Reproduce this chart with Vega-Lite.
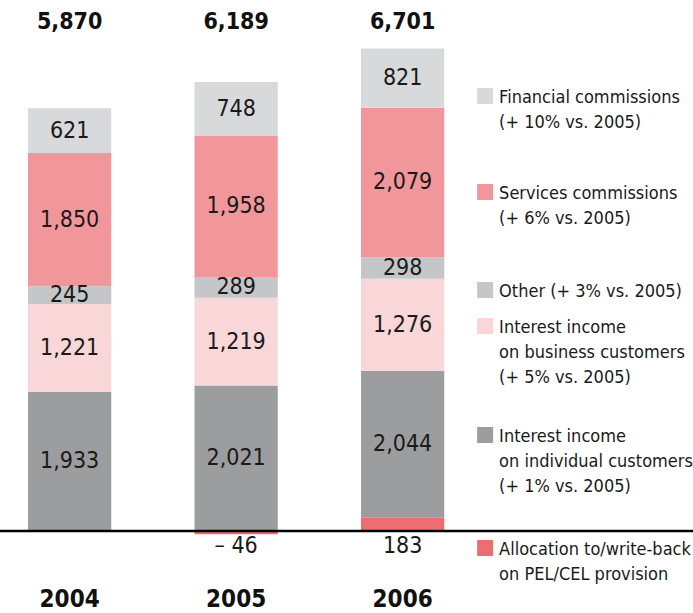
{
  "$schema": "https://vega.github.io/schema/vega-lite/v6.json",
  "width": 693,
  "height": 613,
  "autosize": {"type": "none"},
  "padding": 0,
  "background": "white",
  "config": {"view": {"stroke": null}, "font": "DejaVu Sans Condensed, Liberation Sans"},
  "datasets": {
    "income": [
      {"year": "2004", "cat": "Interest income on individual customers", "ord": 2, "value": 1933, "label": "1,933"},
      {"year": "2004", "cat": "Interest income on business customers", "ord": 3, "value": 1221, "label": "1,221"},
      {"year": "2004", "cat": "Other", "ord": 4, "value": 245, "label": "245"},
      {"year": "2004", "cat": "Services commissions", "ord": 5, "value": 1850, "label": "1,850"},
      {"year": "2004", "cat": "Financial commissions", "ord": 6, "value": 621, "label": "621"},
      {"year": "2005", "cat": "Allocation to/write-back on PEL/CEL provision", "ord": 1, "value": -46, "label": "– 46"},
      {"year": "2005", "cat": "Interest income on individual customers", "ord": 2, "value": 2021, "label": "2,021"},
      {"year": "2005", "cat": "Interest income on business customers", "ord": 3, "value": 1219, "label": "1,219"},
      {"year": "2005", "cat": "Other", "ord": 4, "value": 289, "label": "289"},
      {"year": "2005", "cat": "Services commissions", "ord": 5, "value": 1958, "label": "1,958"},
      {"year": "2005", "cat": "Financial commissions", "ord": 6, "value": 748, "label": "748"},
      {"year": "2006", "cat": "Allocation to/write-back on PEL/CEL provision", "ord": 1, "value": 183, "label": "183"},
      {"year": "2006", "cat": "Interest income on individual customers", "ord": 2, "value": 2044, "label": "2,044"},
      {"year": "2006", "cat": "Interest income on business customers", "ord": 3, "value": 1276, "label": "1,276"},
      {"year": "2006", "cat": "Other", "ord": 4, "value": 298, "label": "298"},
      {"year": "2006", "cat": "Services commissions", "ord": 5, "value": 2079, "label": "2,079"},
      {"year": "2006", "cat": "Financial commissions", "ord": 6, "value": 821, "label": "821"}
    ],
    "legend": [
      {"cat": "Financial commissions", "text": "Financial commissions\n(+ 10% vs. 2005)", "ly": 6042},
      {"cat": "Services commissions", "text": "Services commissions\n(+ 6% vs. 2005)", "ly": 4708},
      {"cat": "Other", "text": "Other (+ 3% vs. 2005)", "ly": 3347},
      {"cat": "Interest income on business customers", "text": "Interest income\non business customers\n(+ 5% vs. 2005)", "ly": 2847},
      {"cat": "Interest income on individual customers", "text": "Interest income\non individual customers\n(+ 1% vs. 2005)", "ly": 1333},
      {"cat": "Allocation to/write-back on PEL/CEL provision", "text": "Allocation to/write-back\non PEL/CEL provision", "ly": -236}
    ]
  },
  "encoding": {
    "x": {
      "type": "nominal",
      "scale": {"domain": ["2004", "2005", "2006", "legend"], "paddingInner": 0.5, "paddingOuter": 0.3311, "align": 0.254},
      "axis": null
    }
  },
  "layer": [
    {
      "data": {"name": "income"},
      "mark": {"type": "bar"},
      "encoding": {
        "x": {"field": "year", "type": "nominal"},
        "y": {"field": "value", "type": "quantitative", "stack": "zero", "scale": {"domain": [-1139, 7375], "nice": false, "zero": false}, "axis": null},
        "order": {"field": "ord", "type": "quantitative"},
        "color": {
          "field": "cat", "type": "nominal", "legend": null,
          "scale": {
            "domain": ["Financial commissions", "Services commissions", "Other", "Interest income on business customers", "Interest income on individual customers", "Allocation to/write-back on PEL/CEL provision"],
            "range": ["#d8d9db", "#f1979b", "#c5c6c8", "#f9d6d7", "#9c9d9f", "#ec6e72"]
          }
        }
      }
    },
    {
      "data": {"name": "income"},
      "transform": [
        {"stack": "value", "groupby": ["year"], "sort": [{"field": "ord", "order": "ascending"}], "as": ["v0", "v1"]},
        {"filter": "datum.ord > 1"},
        {"fold": ["v0", "v1"], "as": ["edgeName", "edge"]},
        {"aggregate": [{"op": "mean", "field": "edge", "as": "mid"}], "groupby": ["year", "label", "ord"]}
      ],
      "mark": {"type": "text", "fontSize": 23, "baseline": "middle", "color": "#1a1a1a"},
      "encoding": {
        "x": {"field": "year", "type": "nominal"},
        "y": {"field": "mid", "type": "quantitative"},
        "text": {"field": "label", "type": "nominal"}
      }
    },
    {
      "data": {"name": "income"},
      "transform": [{"filter": "datum.ord == 1"}],
      "mark": {"type": "text", "fontSize": 23, "baseline": "middle", "color": "#1a1a1a"},
      "encoding": {
        "x": {"field": "year", "type": "nominal"},
        "y": {"datum": -205, "type": "quantitative"},
        "text": {"field": "label", "type": "nominal"}
      }
    },
    {
      "data": {"name": "income"},
      "transform": [{"aggregate": [{"op": "sum", "field": "value", "as": "total"}], "groupby": ["year"]}],
      "mark": {"type": "text", "fontSize": 23, "fontWeight": "bold", "baseline": "middle", "color": "#111111"},
      "encoding": {
        "x": {"field": "year", "type": "nominal"},
        "y": {"datum": 7069, "type": "quantitative"},
        "text": {"field": "total", "type": "quantitative", "format": ","}
      }
    },
    {
      "data": {"name": "income"},
      "transform": [{"aggregate": [{"op": "count", "as": "n"}], "groupby": ["year"]}],
      "mark": {"type": "text", "fontSize": 24, "fontWeight": "bold", "baseline": "middle", "color": "#111111"},
      "encoding": {
        "x": {"field": "year", "type": "nominal"},
        "y": {"datum": -958, "type": "quantitative"},
        "text": {"field": "year", "type": "nominal"}
      }
    },
    {
      "data": {"values": [{}]},
      "mark": {"type": "rule", "color": "#000000", "strokeWidth": 2.5},
      "encoding": {
        "y": {"datum": 0, "type": "quantitative"}
      }
    },
    {
      "data": {"name": "legend"},
      "mark": {"type": "point", "shape": "square", "filled": true, "opacity": 1, "size": 256, "xOffset": -84},
      "encoding": {
        "x": {"datum": "legend", "type": "nominal"},
        "y": {"field": "ly", "type": "quantitative"},
        "color": {"field": "cat", "type": "nominal"}
      }
    },
    {
      "data": {"name": "legend"},
      "mark": {"type": "text", "fontSize": 18, "align": "left", "baseline": "alphabetic", "dx": -70, "dy": 7, "lineBreak": "\n", "lineHeight": 25, "color": "#1a1a1a"},
      "encoding": {
        "x": {"datum": "legend", "type": "nominal"},
        "y": {"field": "ly", "type": "quantitative"},
        "text": {"field": "text", "type": "nominal"}
      }
    }
  ]
}
